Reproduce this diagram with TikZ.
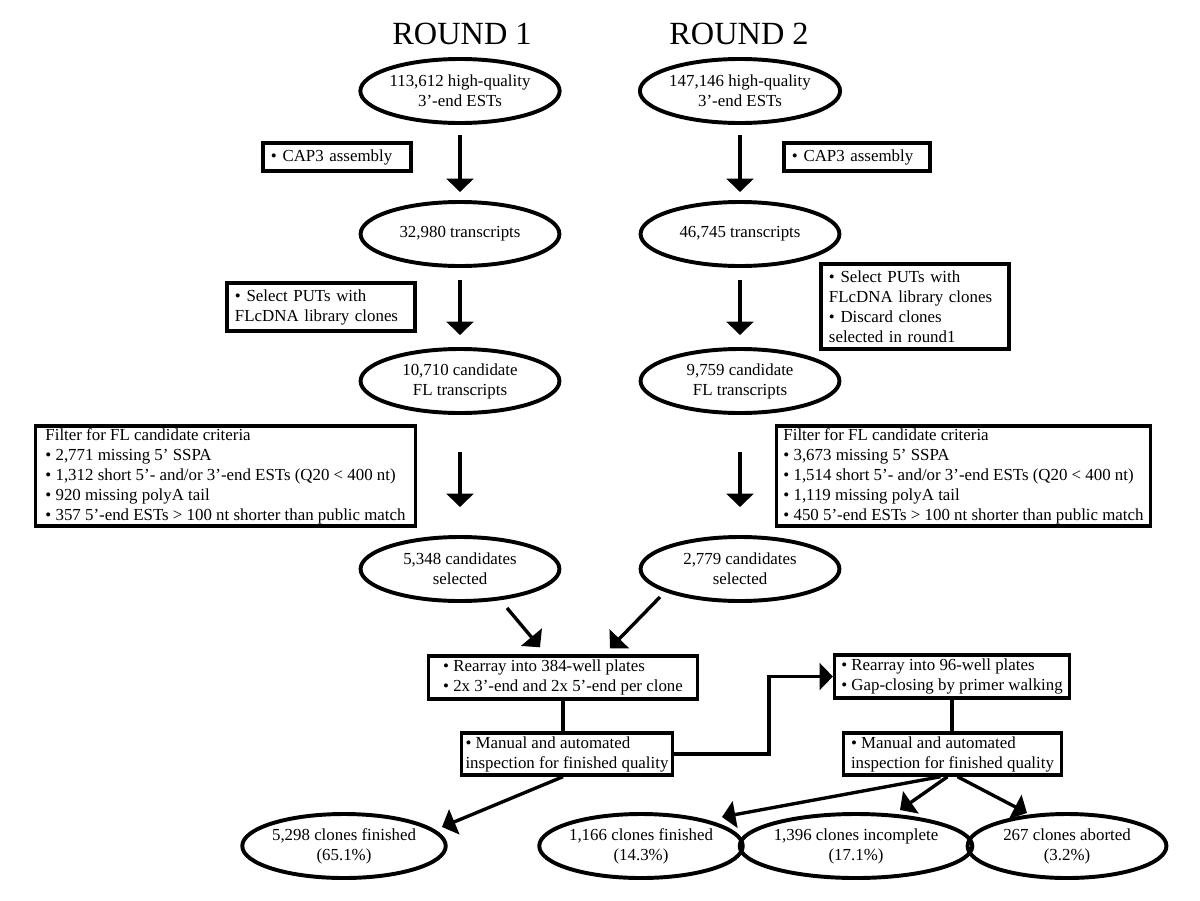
\documentclass[tikz,border=0pt]{standalone}
\usepackage{fontspec}
\setmainfont{Liberation Serif}
\usepackage{tikz}
\usetikzlibrary{arrows.meta,positioning,calc,shapes.geometric}
\tikzset{
  stage/.style={ellipse,draw,line width=2.8pt,minimum width=4.97cm,minimum height=1.6cm,inner sep=0pt,align=center},
  box/.style={draw,line width=2.4pt,align=left,inner xsep=0.2cm,inner ysep=0.05cm},
  wide/.style={box,inner xsep=0.1cm},
  flow/.style={line width=2.4pt,-{Triangle[width=19pt,length=9.5pt]}},
  link/.style={line width=2.4pt},
  title/.style={font=\fontsize{23}{28}\selectfont,anchor=base,inner sep=0pt},
}

\begin{document}
\begin{tikzpicture}[x=0.025cm,y=-0.025cm,font=\fontsize{12}{14.2}\selectfont]
  \useasboundingbox (0,0) rectangle (1200,900);
  \node[title] (r1) at (462,45){ROUND 1};
  \node[title] (r2) at (739,45){ROUND 2};
  \node[stage] (est1) at (460,91){113,612 high-quality\\3’-end ESTs};
  \node[stage] (est2) at (740,91){147,146 high-quality\\3’-end ESTs};
  \node[stage] (tr1) at (460,234){32,980 transcripts};
  \node[stage] (tr2) at (740,234){46,745 transcripts};
  \node[stage] (cand1) at (460,381){10,710 candidate\\FL transcripts};
  \node[stage] (cand2) at (740,381){9,759 candidate\\FL transcripts};
  \node[stage] (sel1) at (460,569){5,348 candidates\\selected};
  \node[stage] (sel2) at (740,569){2,779 candidates\\selected};
  \node[stage] (fin1) at (344,846){5,298 clones finished\\(65.1\%)};
  \node[stage] (fin2) at (641,846){1,166 clones finished\\(14.3\%)};
  \node[stage] (inc) at (856,846){1,396 clones incomplete\\(17.1\%)};
  \node[stage] (abo) at (1067,846){267 clones aborted\\(3.2\%)};

  \node[box,text width=3.3cm,minimum height=0.7cm] (cap1) at (337,157){\textbullet\ CAP3 assembly};
  \node[box,text width=3.25cm,minimum height=0.7cm] (cap2) at (857,157){\textbullet\ CAP3 assembly};
  \node[box,text width=4.3cm,minimum height=1.2cm] (put1) at (321,307){\textbullet\ Select PUTs with\\FLcDNA library clones};
  \node[box,text width=4.3cm,minimum height=2.125cm] (put2) at (915,306.5){\textbullet\ Select PUTs with\\FLcDNA library clones\\\textbullet\ Discard clones\\selected in round1};
  \node[wide,minimum width=9.5cm,minimum height=2.5cm] (filt1) at (225.5,476){Filter for FL candidate criteria\\\textbullet\ 2,771 missing 5’ SSPA\\\textbullet\ 1,312 short 5’- and/or 3’-end ESTs (Q20 < 400 nt)\\\textbullet\ 920 missing polyA tail\\\textbullet\ 357 5’-end ESTs > 100 nt shorter than public match};
  \node[wide,minimum width=9.35cm,minimum height=2.5cm] (filt2) at (963.5,476){Filter for FL candidate criteria\\\textbullet\ 3,673 missing 5’ SSPA\\\textbullet\ 1,514 short 5’- and/or 3’-end ESTs (Q20 < 400 nt)\\\textbullet\ 1,119 missing polyA tail\\\textbullet\ 450 5’-end ESTs > 100 nt shorter than public match};
  \node[wide,minimum width=6.72cm,minimum height=1.075cm] (re1) at (563,677.5){\textbullet\ Rearray into 384-well plates\\\textbullet\ 2x 3’-end and 2x 5’-end per clone};
  \node[wide,minimum width=5.87cm,minimum height=1.075cm] (re2) at (952,676.5){\textbullet\ Rearray into 96-well plates\\\textbullet\ Gap-closing by primer walking};
  \node[wide,minimum width=5.2cm,minimum height=1.05cm] (insp1) at (567,754){\textbullet\ Manual and automated\\inspection for finished quality};
  \node[wide,minimum width=5.44cm,minimum height=1.05cm] (insp2) at (952.5,754){\textbullet\ Manual and automated\\inspection for finished quality};

  \draw[flow,shorten <=0.25cm,shorten >=0.2cm] (est1) -- (tr1);
  \draw[flow,shorten <=0.25cm,shorten >=0.2cm] (est2) -- (tr2);
  \draw[flow,shorten <=0.3cm,shorten >=0.3cm] (tr1) -- (cand1);
  \draw[flow,shorten <=0.3cm,shorten >=0.3cm] (tr2) -- (cand2);
  \draw[flow,shorten <=0.925cm,shorten >=0.7cm] (cand1) -- (sel1);
  \draw[flow,shorten <=0.925cm,shorten >=0.7cm] (cand2) -- (sel2);
  \draw[flow] ($(sel1.center)+(47,39)$) -- ($(re1.north)+(-23,-7)$);
  \draw[flow] ($(sel2.center)+(-80,28)$) -- ($(re1.north)+(47,-6)$);
  \draw[link] (re1.south) -- (re1.south |- insp1.north);
  \draw[flow] (insp1.east) -- ++(95,0) |- (re2.west);
  \draw[link] (re2.south) -- (re2.south |- insp2.north);
  \draw[flow] ($(insp1.south)+(-4,0)$) -- ($(fin1.center)+(98,-19)$);
  \draw[flow] ($(insp2.south)+(-12,0)$) -- ($(fin2.center)+(81,-29)$);
  \draw[flow] ($(insp2.south)+(-5,0)$) -- ($(inc.center)+(44,-36)$);
  \draw[flow] ($(insp2.south)+(5,0)$) -- ($(abo.center)+(-40,-33)$);
\end{tikzpicture}
\end{document}
